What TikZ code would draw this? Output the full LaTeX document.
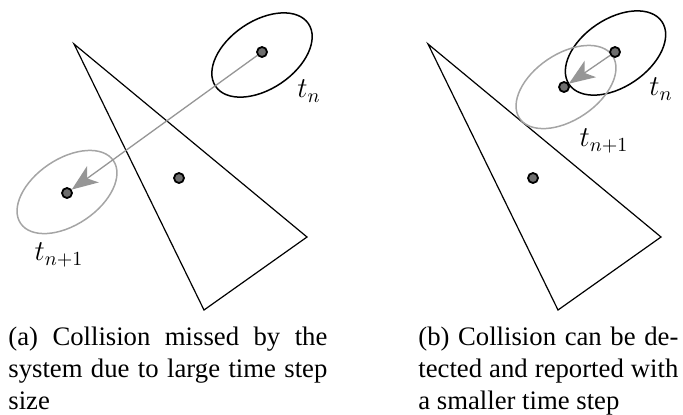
\documentclass[tikz,border=0pt]{standalone}
\usepackage{fontspec}
\setmainfont{Liberation Serif}
\usetikzlibrary{arrows.meta}
\definecolor{ellgray}{RGB}{165,165,165}
\definecolor{arrgray}{RGB}{150,150,150}
\definecolor{dotgray}{RGB}{110,110,110}
\begin{document}
\begin{tikzpicture}[x=0.5pt,y=-0.5pt,
  tri/.style={draw=black,line width=0.6pt,line join=miter},
  blackell/.style={draw=black,line width=0.75pt},
  grayell/.style={draw=ellgray,line width=0.75pt},
  dot/.style={circle,draw=black,fill=dotgray,line width=0.9pt,minimum size=5pt,inner sep=0pt},
  move/.style={draw=arrgray,fill=arrgray,line width=0.65pt,-{Stealth[length=13pt,width=10pt,inset=3.5pt]}},
  lbl/.style={font=\fontsize{14.5}{17}\selectfont,inner sep=0pt},
  captext/.style={inner sep=0pt,anchor=base west,font=\fontsize{13.35}{16}\selectfont}]
\useasboundingbox (0,0) rectangle (683,414);

% ---------- panel (a) ----------
\draw[tri] (74,44) -- (307,237) -- (204,310) -- cycle;
\draw[blackell,rotate around={34:(262,55)}] (262,55) ellipse [x radius=56,y radius=34];
\draw[grayell,rotate around={34:(67,192)}] (67,192) ellipse [x radius=56,y radius=33];
\node[dot] (a1) at (262,52) {};
\node[dot] (a2) at (67,193) {};
\node[dot] (ac) at (179,178) {};
\draw[move] (a1) -- (a2);
\node[lbl] (atn) at (309,91) {$t_n$};
\node[lbl] (atn1) at (59,255) {$t_{n+1}$};

% ---------- panel (b) ----------
\draw[tri] (428,44) -- (661,237) -- (558,310) -- cycle;
\draw[blackell,rotate around={34:(615.5,53)}] (615.5,53) ellipse [x radius=56,y radius=34];
\draw[grayell,rotate around={34:(566,87)}] (566,87) ellipse [x radius=56,y radius=33];
\node[dot] (b1) at (615,52) {};
\node[dot] (b2) at (564,87) {};
\node[dot] (bc) at (533,178) {};
\draw[move] (b1) -- (b2);
\node[lbl] (btn) at (661,89) {$t_n$};
\node[lbl] (btn1) at (604,141) {$t_{n+1}$};

% ---------- captions ----------
\node[captext] (capa) at (8,345) {\parbox[t]{159.5pt}{(a) Collision missed by the\linebreak system due to large time step\linebreak size}};
\node[captext] (capb) at (418,345) {\parbox[t]{130pt}{(b) Collision can be de-\linebreak tected and reported with\linebreak a smaller time step}};
\end{tikzpicture}
\end{document}
